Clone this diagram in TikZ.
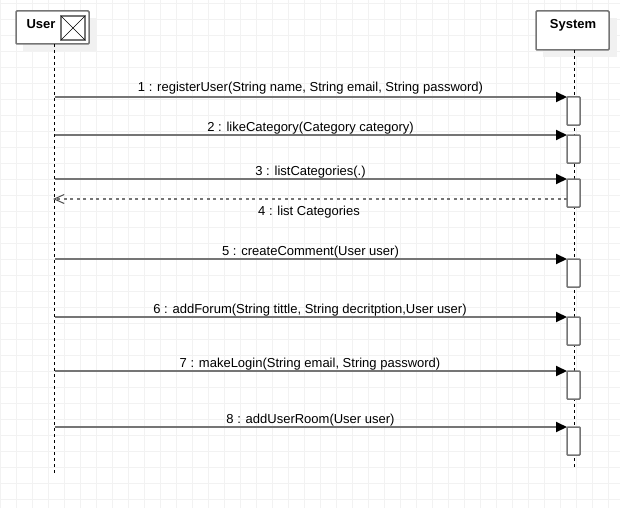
\documentclass[tikz,border=0pt]{standalone}
\usepackage{fontspec}
\setmainfont{Liberation Sans}
\usetikzlibrary{arrows.meta}
\definecolor{gridc}{HTML}{F2F2F2}
\definecolor{shadowc}{HTML}{F1F1F1}
\definecolor{linec}{HTML}{757575}
\tikzset{
  x=1pt,y=-1pt,
  box/.style={draw=linec,line width=1.5pt,fill=white,rounded corners=1pt,inner sep=0,outer sep=0,minimum width=73pt,anchor=north west},
  lifeline/.style={draw=black,line width=1pt,dash pattern=on 3pt off 3pt},
  activation/.style={draw=linec,line width=1.5pt,fill=white,rounded corners=0.8pt,inner sep=0,outer sep=0,minimum width=13pt,minimum height=28pt,anchor=north west},
  msg/.style={draw=linec,line width=2pt,-{Triangle[length=11pt,width=10pt,color=black]}},
  reply/.style={draw=linec,line width=1.5pt,dash pattern=on 3pt off 3.5pt,shorten >=-1.5pt,-{Straight Barb[length=10pt,width=9pt,line width=1pt,color=black!70]}},
  lab/.style={font=\fontsize{13}{15}\selectfont,text=black,inner sep=0,anchor=base},
  title/.style={font=\fontsize{13}{15}\selectfont\bfseries,text=black,inner sep=0,anchor=base},
}
\begin{document}
\begin{tikzpicture}
\useasboundingbox (0,0) rectangle (620,508);
\fill[white] (0,0) rectangle (620,508);
\foreach \i in {0,...,38} {\draw[gridc,line width=1pt] ({16*\i+0.5},0) -- ({16*\i+0.5},508);}
\foreach \i in {0,...,31} {\draw[gridc,line width=1pt] (0,{16*\i+3.5}) -- (620,{16*\i+3.5});}
\fill[shadowc] (23,18) rectangle (97,51);
\fill[shadowc] (543,18) rectangle (617,57);
% lifeline ends
\coordinate (uend) at (54.5,474);
\coordinate (send) at (574.5,468);
% boxes
\node[box,minimum height=33pt] (user) at (16,11) {};
\node[box,minimum height=39pt] (system) at (536,11) {};
\node[title] (usert) at (41,28.5) {User};
\node[title] (systemt) at (573,28.5) {System};
% actor icon
\node[draw=linec,line width=1.5pt,fill=white,inner sep=0,outer sep=0,minimum width=24pt,minimum height=24pt,anchor=north west] (icon) at (61,16) {};
\draw[black,line width=0.7pt] (icon.north west) -- (icon.south east) (icon.north east) -- (icon.south west);
% lifelines
\draw[lifeline] (user.south -| 54.5,0) -- (uend);
\draw[lifeline] (system.south -| 574.5,0) -- (send);
% activations
\foreach \n/\y in {1/97,2/135,3/179,5/259,6/317,7/371,8/427}
  \node[activation] (a\n) at (567,\y) {};
% user side ends
\foreach \n/\y in {1/97,2/135,3/179,4/199,5/259,6/317,7/371,8/427}
  \coordinate (u\n) at (54.5,\y);
\coordinate (r4) at (567,199);
% messages
\foreach \n in {1,2,3,5,6,7,8}
  \draw[msg] (u\n) -- (a\n.north west);
\draw[reply] (r4) -- (u4);
% labels
\node[lab] (l1) at (310.5,92) {1 : registerUser(String name, String email, String password)};
\node[lab] (l2) at (310.5,131) {2 : likeCategory(Category category)};
\node[lab] (l3) at (310.5,175) {3 : listCategories(.)};
\node[lab] (l4) at (309,215) {4 : list Categories};
\node[lab] (l5) at (310.5,255) {5 : createComment(User user)};
\node[lab] (l6) at (310,313) {6 : addForum(String tittle, String decritption,User user)};
\node[lab] (l7) at (310,367) {7 : makeLogin(String email, String password)};
\node[lab] (l8) at (310.5,423) {8 : addUserRoom(User user)};
\end{tikzpicture}
\end{document}
